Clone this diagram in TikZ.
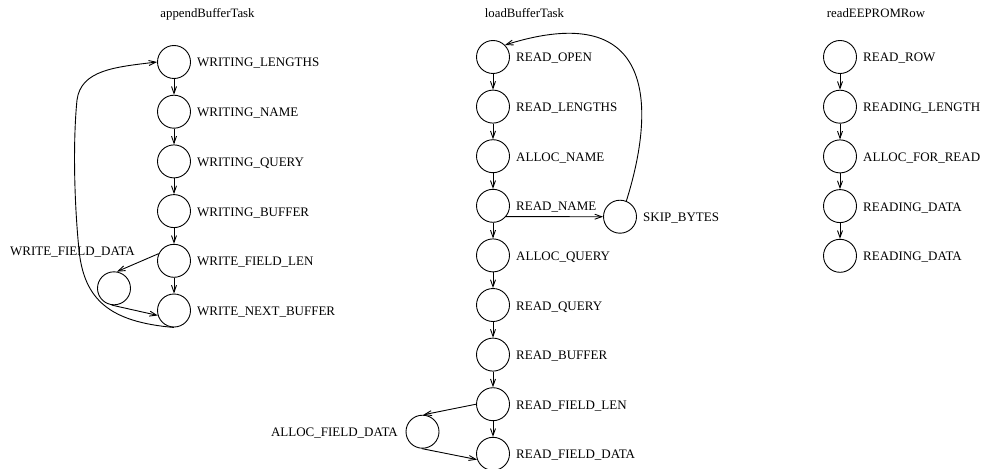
\documentclass[tikz,border=0pt]{standalone}
\usepackage{fontspec}
\setmainfont{Liberation Serif}
\usetikzlibrary{arrows.meta}
\begin{document}
\begin{tikzpicture}[x=1pt,y=-1pt,
  st/.style={circle,draw,line width=0.9pt,minimum size=33pt,inner sep=0pt},
  lbl/.style={anchor=base west,inner sep=0pt,font=\fontsize{13}{15}\selectfont},
  lble/.style={anchor=base east,inner sep=0pt,font=\fontsize{13}{15}\selectfont},
  ttl/.style={anchor=base,inner sep=0pt,font=\fontsize{12.8}{15}\selectfont},
  tr/.style={line width=0.9pt,-{Straight Barb[length=7pt,width=5pt]}}
]
\useasboundingbox (0,0) rectangle (984,468);

% titles
\node[ttl] (t1) at (207.5,17.5) {appendBufferTask};
\node[ttl] (t2) at (524.5,17.5) {loadBufferTask};
\node[ttl] (t3) at (876,17.5) {readEEPROMRow};

% appendBufferTask
\node[st] (a1) at (174,62) {};
\node[st] (a2) at (174,111.7) {};
\node[st] (a3) at (174,161.4) {};
\node[st] (a4) at (174,211.1) {};
\node[st] (a5) at (174,260.8) {};
\node[st] (a6) at (174,310.5) {};
\node[st] (wfd) at (114,288.3) {};
\node[lbl] (la1) at (197,67) {WRITING\_LENGTHS};
\node[lbl] (la2) at (197,116.7) {WRITING\_NAME};
\node[lbl] (la3) at (197,166.4) {WRITING\_QUERY};
\node[lbl] (la4) at (197,216.1) {WRITING\_BUFFER};
\node[lbl] (la5) at (197,265.8) {WRITE\_FIELD\_LEN};
\node[lbl] (la6) at (197,315.5) {WRITE\_NEXT\_BUFFER};
\node[lbl] (lwfd) at (10,255.3) {WRITE\_FIELD\_DATA};

\draw[tr] (a1) -- (a2);
\draw[tr] (a2) -- (a3);
\draw[tr] (a3) -- (a4);
\draw[tr] (a4) -- (a5);
\draw[tr] (a5) -- (a6);
\draw[tr] (a5.155) -- (wfd.80);
\draw[tr] (wfd.-98) -- (a6.-163);
\draw[tr] (a6.south) .. controls (110,322) and (84,300) .. (79,250)
  .. controls (74,200) and (73,140) .. (77,100)
  .. controls (81,70) and (115,67) .. (a1.west);

% loadBufferTask
\node[st] (b1) at (493,57) {};
\node[st] (b2) at (493,106.6) {};
\node[st] (b3) at (493,156.2) {};
\node[st] (b4) at (493,205.8) {};
\node[st] (b5) at (493,255.4) {};
\node[st] (b6) at (493,305) {};
\node[st] (b7) at (493,354.6) {};
\node[st] (b8) at (493,404.2) {};
\node[st] (b9) at (493,453.8) {};
\node[st] (sk) at (620,216.7) {};
\node[st] (afd) at (422.5,431.7) {};
\node[lbl] (lb1) at (516,62) {READ\_OPEN};
\node[lbl] (lb2) at (516,111.6) {READ\_LENGTHS};
\node[lbl] (lb3) at (516,161.2) {ALLOC\_NAME};
\node[lbl] (lb4) at (516,210.8) {READ\_NAME};
\node[lbl] (lb5) at (516,260.4) {ALLOC\_QUERY};
\node[lbl] (lb6) at (516,310) {READ\_QUERY};
\node[lbl] (lb7) at (516,359.6) {READ\_BUFFER};
\node[lbl] (lb8) at (516,409.2) {READ\_FIELD\_LEN};
\node[lbl] (lb9) at (516,458.8) {READ\_FIELD\_DATA};
\node[lbl] (lsk) at (643,221.7) {SKIP\_BYTES};
\node[lble] (lafd) at (398,436.7) {ALLOC\_FIELD\_DATA};

\draw[tr] (b1) -- (b2);
\draw[tr] (b2) -- (b3);
\draw[tr] (b3) -- (b4);
\draw[tr] (b4) -- (b5);
\draw[tr] (b5) -- (b6);
\draw[tr] (b6) -- (b7);
\draw[tr] (b7) -- (b8);
\draw[tr] (b8) -- (b9);
\draw[tr] (b4.-40) -- (sk.180);
\draw[tr] (sk.68) .. controls (655,110) and (658,-3) .. (b1.45);
\draw[tr] (b8.180) -- (afd.87);
\draw[tr] (afd.-92) -- (b9.-160);

% readEEPROMRow
\node[st] (c1) at (840,57) {};
\node[st] (c2) at (840,106.7) {};
\node[st] (c3) at (840,156.4) {};
\node[st] (c4) at (840,206.1) {};
\node[st] (c5) at (840,255.8) {};
\node[lbl] (lc1) at (863,62) {READ\_ROW};
\node[lbl] (lc2) at (863,111.7) {READING\_LENGTH};
\node[lbl] (lc3) at (863,161.4) {ALLOC\_FOR\_READ};
\node[lbl] (lc4) at (863,211.1) {READING\_DATA};
\node[lbl] (lc5) at (863,260.8) {READING\_DATA};

\draw[tr] (c1) -- (c2);
\draw[tr] (c2) -- (c3);
\draw[tr] (c3) -- (c4);
\draw[tr] (c4) -- (c5);
\end{tikzpicture}
\end{document}
